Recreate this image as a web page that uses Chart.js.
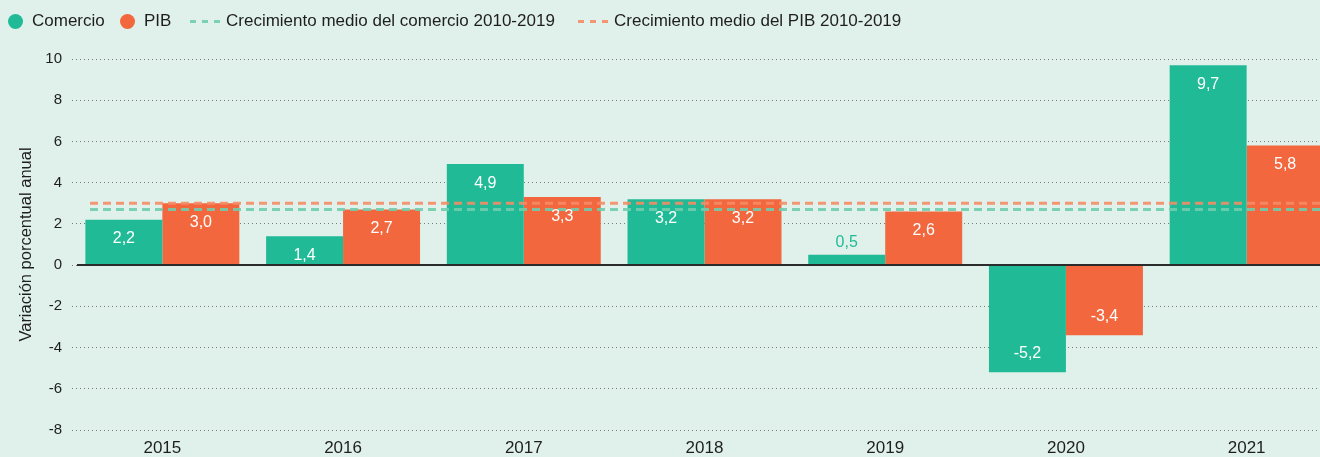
<!DOCTYPE html>
<html>
<head>
<meta charset="utf-8">
<script src="https://cdn.jsdelivr.net/npm/chart.js@4"></script>
<style>
  html, body { margin: 0; padding: 0; background: #e0f1eb; overflow: hidden; }
  #wrap { position: relative; width: 1340px; height: 457px; }
  #legend { position: absolute; left: 0; top: 0; height: 40px; width: 1320px;
            font-family: "Liberation Sans", Arial, sans-serif; font-size: 17px; color: #1e1e1e; }
  .item { position: absolute; top: 11px; display: flex; align-items: center; height: 20px; white-space: nowrap; }
  .dot { width: 15px; height: 15px; border-radius: 50%; margin-right: 9px; }
  .dash { width: 30px; height: 3px; margin-right: 6px; }
</style>
</head>
<body>
<div id="wrap">
  <canvas id="chart" width="1340" height="457"></canvas>
  <div id="legend"></div>
</div>
<script>
// data
const years = ['2015', '2016', '2017', '2018', '2019', '2020', '2021'];
const comercio = [2.2, 1.4, 4.9, 3.2, 0.5, -5.2, 9.7];
const pib = [3.0, 2.7, 3.3, 3.2, 2.6, -3.4, 5.8];
const mediaComercio = 2.7;
const mediaPib = 3.0;
const yMin = -8, yMax = 10, yStep = 2;

const VERDE = '#20bb96';
const NARANJA = '#f2673d';
const VERDE_MEDIA = 'rgba(112,205,172,0.9)';
const NARANJA_MEDIA = 'rgba(245,140,102,0.9)';

const legendItems = [
    { left: 8, type: 'dot', color: VERDE, text: 'Comercio' },
    { left: 120, type: 'dot', color: NARANJA, text: 'PIB' },
    { left: 190, type: 'dash', color: VERDE_MEDIA, text: 'Crecimiento medio del comercio 2010-2019' },
    { left: 578, type: 'dash', color: NARANJA_MEDIA, text: 'Crecimiento medio del PIB 2010-2019' }
];

document.getElementById('legend').innerHTML = legendItems.map(it => {
    const sw = it.type === 'dot'
        ? `<span class="dot" style="background:${it.color}"></span>`
        : `<span class="dash" style="background:repeating-linear-gradient(to right, ${it.color} 0 6px, transparent 6px 12px)"></span>`;
    return `<div class="item" style="left:${it.left}px">${sw}<span>${it.text}</span></div>`;
}).join('');

const fmt = v => v.toFixed(1).replace('.', ',');

// zero line, average lines and the value labels
const overlay = {
    id: 'overlay',
    afterDatasetsDraw(chart) {
        const { ctx, chartArea: a, scales: { y } } = chart;
        ctx.save();

        const y0 = y.getPixelForValue(0);
        ctx.strokeStyle = '#2b2b2b';
        ctx.lineWidth = 2;
        ctx.beginPath();
        ctx.moveTo(a.left + 5, y0);
        ctx.lineTo(a.right, y0);
        ctx.stroke();

        ctx.lineWidth = 3;
        ctx.setLineDash([8, 5]);
        [[mediaPib, NARANJA_MEDIA], [mediaComercio, VERDE_MEDIA]].forEach(([v, c]) => {
            const py = y.getPixelForValue(v);
            ctx.strokeStyle = c;
            ctx.beginPath();
            ctx.moveTo(a.left + 18, py);
            ctx.lineTo(a.right, py);
            ctx.stroke();
        });
        ctx.setLineDash([]);

        ctx.font = '16px "Liberation Sans", Arial, sans-serif';
        ctx.textAlign = 'center';
        ctx.textBaseline = 'middle';
        chart.data.datasets.forEach((ds, i) => {
            chart.getDatasetMeta(i).data.forEach((bar, j) => {
                const v = ds.data[j];
                let ty, col = '#ffffff';
                if (Math.abs(v) < 1) {
                    ty = bar.y - 12;
                    col = ds.backgroundColor;
                } else if (v > 0) {
                    ty = bar.y + 19;
                } else {
                    ty = bar.y - 19;
                }
                ctx.fillStyle = col;
                ctx.fillText(fmt(v), bar.x, ty);
            });
        });
        ctx.restore();
    }
};

const ctx = document.getElementById('chart').getContext('2d');
new Chart(ctx, {
    type: 'bar',
    data: {
        labels: years,
        datasets: [
            { label: 'Comercio', data: comercio, backgroundColor: VERDE },
            { label: 'PIB', data: pib, backgroundColor: NARANJA }
        ]
    },
    options: {
        responsive: false,
        animation: false,
        layout: { padding: { top: 59, right: 3, left: 0, bottom: 0 } },
        datasets: { bar: { categoryPercentage: 0.852, barPercentage: 1.0 } },
        plugins: { legend: { display: false }, tooltip: { enabled: false } },
        scales: {
            x: {
                grid: { display: false, drawTicks: false },
                border: { display: false },
                ticks: {
                    color: '#1e1e1e', padding: 8,
                    font: { family: '"Liberation Sans", Arial, sans-serif', size: 17 }
                },
                afterFit(s) { s.height = 27; }
            },
            y: {
                min: yMin, max: yMax,
                grid: { color: '#7a7a7a', lineWidth: 1, drawTicks: false },
                border: { display: false, dash: [1, 3] },
                ticks: {
                    stepSize: yStep, color: '#1e1e1e', padding: 10,
                    font: { family: '"Liberation Sans", Arial, sans-serif', size: 15 }
                },
                title: {
                    display: true, text: 'Variación porcentual anual', color: '#1e1e1e',
                    padding: { top: 17, bottom: 0 },
                    font: { family: '"Liberation Sans", Arial, sans-serif', size: 16.5 }
                },
                afterFit(s) { s.width = 72; }
            }
        }
    },
    plugins: [overlay]
});
</script>
</body>
</html>
